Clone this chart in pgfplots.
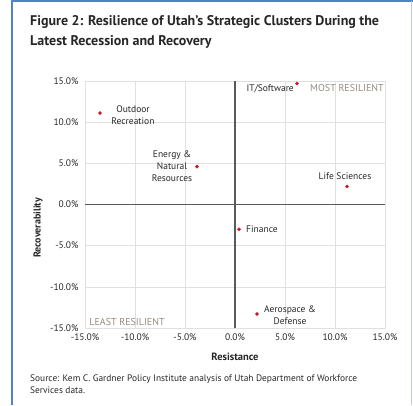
\documentclass[border=0pt]{standalone}
\usepackage{pgfplots}
\pgfplotsset{compat=1.18}
\usepackage{fontspec}
\setmainfont{PT Sans}
\definecolor{frameblue}{RGB}{80,130,200}
\definecolor{ptred}{RGB}{200,25,35}
\definecolor{resgray}{RGB}{150,140,130}
\begin{document}
\begin{tikzpicture}[x=1pt,y=1pt]
\path[use as bounding box] (0,0) rectangle (413,405);
\draw[frameblue,line width=1.5pt] (12,0) -- (12,404) -- (413,404);
\draw[frameblue!40,line width=0.6pt] (411,404) -- (411,0);
\node[anchor=north west,align=left,font=\fontsize{14}{20}\selectfont\bfseries,text=black!85,inner sep=0pt] at (30,390)
  {Figure 2: Resilience of Utah’s Strategic Clusters During the\\Latest Recession and Recovery};
\begin{axis}[
  at={(85pt,77pt)}, anchor=south west,
  scale only axis, width=300pt, height=247pt,
  xmin=-15, xmax=15, ymin=-15, ymax=15,
  xtick={-15,-10,-5,0,5,10,15}, ytick={-15,-10,-5,0,5,10,15},
  xticklabels={-15.0\%,-10.0\%,-5.0\%,0.0\%,5.0\%,10.0\%,15.0\%},
  yticklabels={-15.0\%,-10.0\%,-5.0\%,0.0\%,5.0\%,10.0\%,15.0\%},
  grid=major, grid style={black!12,line width=0.6pt},
  axis line style={draw=black!12,line width=0.6pt},
  major tick length=0pt,
  tick label style={font=\fontsize{9.5}{10}\selectfont,text=black!85},
  xticklabel style={yshift=-2pt},
  yticklabel style={xshift=-3pt},
  clip=false,
]
\draw[black!65,line width=1.2pt] (axis cs:-15,0) -- (axis cs:15,0);
\draw[black!65,line width=1.2pt] (axis cs:0,-15) -- (axis cs:0,15);
\addplot[only marks, mark=*, mark size=1.6pt, ptred, mark options={draw=ptred,fill=ptred}] coordinates {
  (-13.5,11.1) (-3.8,4.6) (6.2,14.7) (11.2,2.2) (0.4,-3.0) (2.2,-13.3)
};
\tikzset{lbl/.style={font=\fontsize{9.5}{12}\selectfont,text=black!85,align=center,inner sep=0pt}}
\node[lbl] at (axis cs:-10.2,10.9) {Outdoor\\Recreation};
\node[lbl] at (axis cs:-6.3,4.6) {Energy \&\\Natural\\Resources};
\node[lbl,anchor=east] at (axis cs:5.9,14.1) {IT/Software};
\node[lbl,text=resgray,font=\fontsize{10}{12}\selectfont] at (axis cs:11.2,14.1) {MOST RESILIENT};
\node[lbl] at (axis cs:11.0,3.4) {Life Sciences};
\node[lbl,anchor=west] at (axis cs:1.1,-3.0) {Finance};
\node[lbl] at (axis cs:5.5,-13.5) {Aerospace \&\\Defense};
\node[lbl,text=resgray,font=\fontsize{10}{12}\selectfont] at (axis cs:-10.8,-14.3) {LEAST RESILIENT};
\end{axis}
\node[rotate=90,font=\fontsize{10}{10}\selectfont\bfseries,text=black!85] at (38,177) {Recoverability};
\node[font=\fontsize{10.5}{10}\selectfont\bfseries,text=black!85] at (235,48) {Resistance};
\node[anchor=north west,align=left,font=\fontsize{9.4}{12}\selectfont,text=black!85,inner sep=0pt] at (30,30)
  {Source: Kem C. Gardner Policy Institute analysis of Utah Department of Workforce\\Services data.};
\end{tikzpicture}
\end{document}
